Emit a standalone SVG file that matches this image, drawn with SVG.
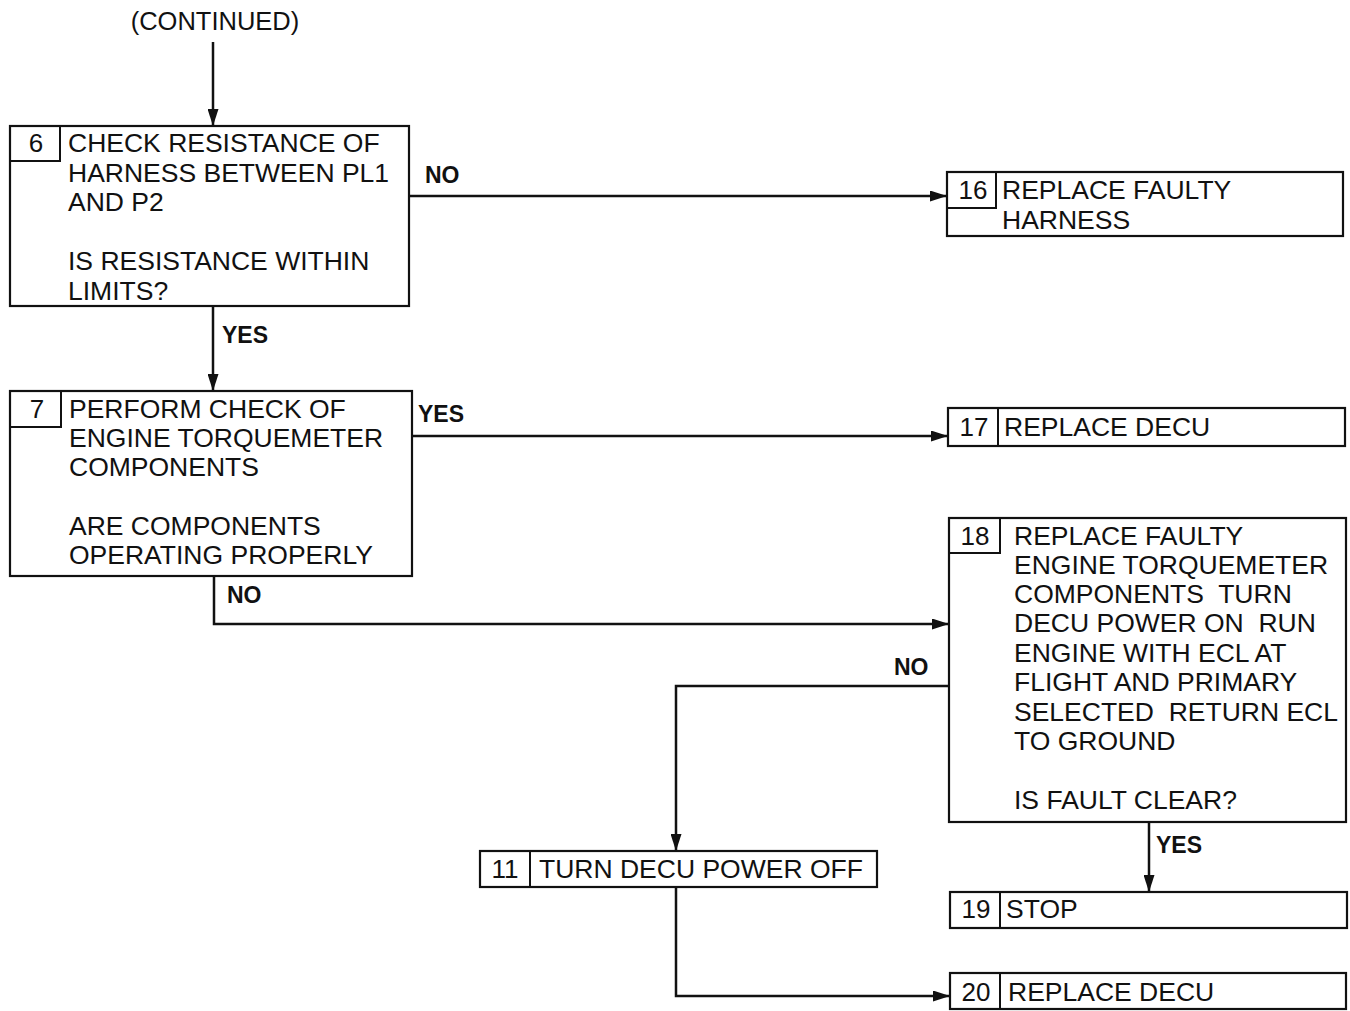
<svg xmlns="http://www.w3.org/2000/svg" width="1350" height="1011" viewBox="0 0 1350 1011">
  <style>
    .box { fill: #fff; stroke: #111; stroke-width: 2.2; }
    .num { fill: none; stroke: #111; stroke-width: 2; }
    .t { font-family: "Liberation Sans", Arial, sans-serif; font-size: 26.5px; fill: #111; white-space: pre; }
    .n { font-family: "Liberation Sans", Arial, sans-serif; font-size: 26px; fill: #111; text-anchor: middle; }
    .lbl { font-family: "Liberation Sans", Arial, sans-serif; font-size: 23px; font-weight: bold; fill: #111; }
    .wire { fill: none; stroke: #111; stroke-width: 2.5; }
  </style>
  <defs>
    <marker id="arrow" viewBox="0 0 17 11" refX="17" refY="5.5" markerWidth="17" markerHeight="11" markerUnits="userSpaceOnUse" orient="auto">
      <path d="M0,0 L17,5.5 L0,11 Z" fill="#111"/>
    </marker>
  </defs>

  <text class="t" x="215" y="30" text-anchor="middle" style="font-size:25.5px">(CONTINUED)</text>

  <g id="connectors">
    <path class="wire" d="M213,42 V126" marker-end="url(#arrow)"/>
    <path class="wire" d="M213,306 V391" marker-end="url(#arrow)"/>
    <path class="wire" d="M409,196 H947" marker-end="url(#arrow)"/>
    <path class="wire" d="M412,436 H948" marker-end="url(#arrow)"/>
    <path class="wire" d="M214,576 V624 H949" marker-end="url(#arrow)"/>
    <path class="wire" d="M949,686 H676 V851" marker-end="url(#arrow)"/>
    <path class="wire" d="M1149,822 V892" marker-end="url(#arrow)"/>
    <path class="wire" d="M676,887 V996 H950" marker-end="url(#arrow)"/>
    <text class="lbl" x="425" y="183">NO</text>
    <text class="lbl" x="222" y="343">YES</text>
    <text class="lbl" x="418" y="422">YES</text>
    <text class="lbl" x="227" y="603">NO</text>
    <text class="lbl" x="894" y="675">NO</text>
    <text class="lbl" x="1156" y="853">YES</text>
  </g>

  <g id="node-6">
    <rect class="box" x="10" y="126" width="399" height="180"/>
    <rect class="num" x="10" y="126" width="50" height="35"/>
    <text class="n" x="36" y="152">6</text>
    <text class="t" x="68" y="152">CHECK RESISTANCE OF</text>
    <text class="t" x="68" y="182">HARNESS BETWEEN PL1</text>
    <text class="t" x="68" y="211">AND P2</text>
    <text class="t" x="68" y="270">IS RESISTANCE WITHIN</text>
    <text class="t" x="68" y="300">LIMITS?</text>
  </g>

  <g id="node-16">
    <rect class="box" x="947" y="172" width="396" height="64"/>
    <rect class="num" x="947" y="172" width="49" height="36"/>
    <text class="n" x="973" y="199">16</text>
    <text class="t" x="1002" y="199">REPLACE FAULTY</text>
    <text class="t" x="1002" y="229">HARNESS</text>
  </g>

  <g id="node-7">
    <rect class="box" x="10" y="391" width="402" height="185"/>
    <rect class="num" x="10" y="391" width="51" height="36"/>
    <text class="n" x="37" y="418">7</text>
    <text class="t" x="69" y="418">PERFORM CHECK OF</text>
    <text class="t" x="69" y="447">ENGINE TORQUEMETER</text>
    <text class="t" x="69" y="476">COMPONENTS</text>
    <text class="t" x="69" y="535">ARE COMPONENTS</text>
    <text class="t" x="69" y="564">OPERATING PROPERLY</text>
  </g>

  <g id="node-17">
    <rect class="box" x="948" y="408" width="397" height="38"/>
    <rect class="num" x="948" y="408" width="50" height="38"/>
    <text class="n" x="974" y="436">17</text>
    <text class="t" x="1004" y="436">REPLACE DECU</text>
  </g>

  <g id="node-18">
    <rect class="box" x="949" y="518" width="397" height="304"/>
    <rect class="num" x="949" y="518" width="51" height="35"/>
    <text class="n" x="975" y="545">18</text>
    <text class="t" x="1014" y="545">REPLACE FAULTY</text>
    <text class="t" x="1014" y="574">ENGINE TORQUEMETER</text>
    <text class="t" x="1014" y="603" xml:space="preserve">COMPONENTS  TURN</text>
    <text class="t" x="1014" y="632" xml:space="preserve">DECU POWER ON  RUN</text>
    <text class="t" x="1014" y="662">ENGINE WITH ECL AT</text>
    <text class="t" x="1014" y="691">FLIGHT AND PRIMARY</text>
    <text class="t" x="1014" y="721" xml:space="preserve">SELECTED  RETURN ECL</text>
    <text class="t" x="1014" y="750">TO GROUND</text>
    <text class="t" x="1014" y="809">IS FAULT CLEAR?</text>
  </g>

  <g id="node-11">
    <rect class="box" x="480" y="851" width="397" height="36"/>
    <rect class="num" x="480" y="851" width="50" height="36"/>
    <text class="n" x="505" y="878">11</text>
    <text class="t" x="539" y="878">TURN DECU POWER OFF</text>
  </g>

  <g id="node-19">
    <rect class="box" x="950" y="892" width="397" height="36"/>
    <rect class="num" x="950" y="892" width="50" height="36"/>
    <text class="n" x="976" y="918">19</text>
    <text class="t" x="1006" y="918">STOP</text>
  </g>

  <g id="node-20">
    <rect class="box" x="950" y="973" width="396" height="36"/>
    <rect class="num" x="950" y="973" width="50" height="36"/>
    <text class="n" x="976" y="1001">20</text>
    <text class="t" x="1008" y="1001">REPLACE DECU</text>
  </g>
</svg>
